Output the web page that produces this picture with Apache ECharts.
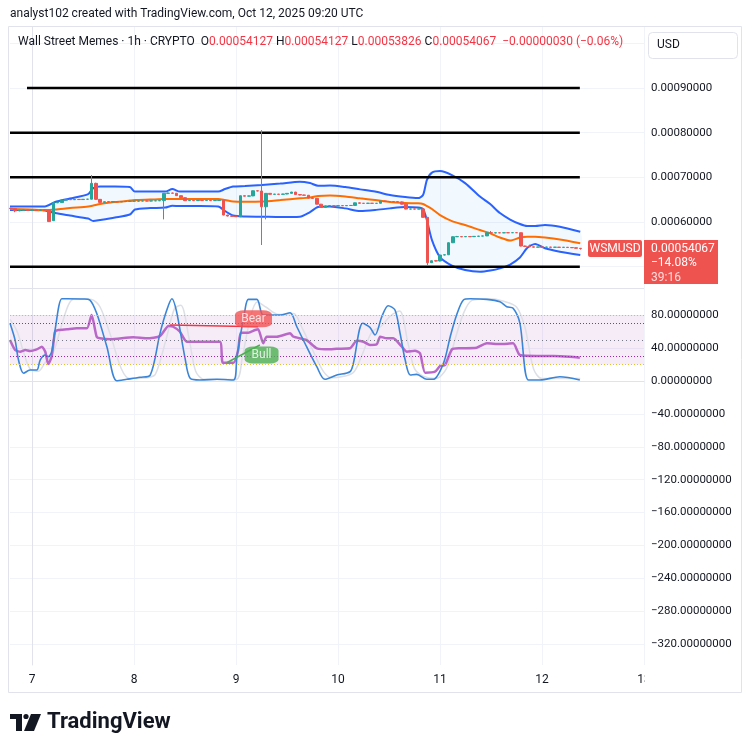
<!DOCTYPE html>
<html><head><meta charset="utf-8">
<script src="https://cdn.jsdelivr.net/npm/echarts@6/dist/echarts.min.js"></script>
<style>html,body{margin:0;padding:0;background:#fff}#c{width:750px;height:753px}</style>
</head><body><div id="c"></div><script>
// ---------- DATA ----------
const dayHours = [0, 24, 48, 72, 96, 120, 144];
const dayLabels = ['7', '8', '9', '10', '11', '12', '13'];
const priceTicks = [0.0005, 0.0006, 0.0007, 0.0008, 0.0009, 0.001];
const oscTicks = [80, 40, 0, -40, -80, -120, -160, -200, -240, -280, -320];

const candleStartHour = -5; // hourly candles, [open, close, low, high]
const candles = [
[0.0006310,0.0006300,0.0006290,0.0006320],[0.0006300,0.0006250,0.0006220,0.0006305],[0.0006250,0.0006262,0.0006245,0.0006270],
[0.0006262,0.0006270,0.0006255,0.0006275],[0.0006270,0.0006262,0.0006255,0.0006275],[0.0006262,0.0006270,0.0006258,0.0006278],
[0.0006270,0.0006265,0.0006258,0.0006276],[0.0006265,0.0006270,0.0006260,0.0006278],[0.0006270,0.0006268,0.0006260,0.0006275],
[0.0006268,0.0006010,0.0006000,0.0006272],[0.0006030,0.0006430,0.0006025,0.0006440],[0.0006430,0.0006440,0.0006425,0.0006450],
[0.0006435,0.0006490,0.0006430,0.0006495],[0.0006490,0.0006505,0.0006485,0.0006510],[0.0006505,0.0006500,0.0006495,0.0006512],
[0.0006500,0.0006508,0.0006495,0.0006512],[0.0006508,0.0006503,0.0006498,0.0006512],[0.0006503,0.0006510,0.0006498,0.0006515],
[0.0006510,0.0006512,0.0006500,0.0006518],[0.0006512,0.0006866,0.0006505,0.0007051],[0.0006866,0.0006508,0.0006500,0.0006880],
[0.0006508,0.0006440,0.0006432,0.0006512],[0.0006440,0.0006455,0.0006435,0.0006460],[0.0006455,0.0006450,0.0006445,0.0006462],
[0.0006450,0.0006458,0.0006445,0.0006462],[0.0006458,0.0006452,0.0006447,0.0006462],[0.0006452,0.0006458,0.0006448,0.0006463],
[0.0006458,0.0006462,0.0006452,0.0006466],[0.0006462,0.0006465,0.0006457,0.0006470],[0.0006465,0.0006468,0.0006460,0.0006472],
[0.0006468,0.0006470,0.0006462,0.0006475],[0.0006470,0.0006472,0.0006465,0.0006478],[0.0006472,0.0006470,0.0006465,0.0006478],
[0.0006470,0.0006475,0.0006465,0.0006480],[0.0006475,0.0006476,0.0006468,0.0006482],[0.0006476,0.0006480,0.0006470,0.0006485],
[0.0006480,0.0006642,0.0006060,0.0006650],[0.0006642,0.0006650,0.0006638,0.0006660],[0.0006650,0.0006645,0.0006638,0.0006655],
[0.0006645,0.0006590,0.0006585,0.0006650],[0.0006590,0.0006545,0.0006540,0.0006595],[0.0006545,0.0006478,0.0006470,0.0006550],
[0.0006478,0.0006482,0.0006472,0.0006488],[0.0006482,0.0006478,0.0006472,0.0006488],[0.0006478,0.0006485,0.0006472,0.0006490],
[0.0006485,0.0006480,0.0006475,0.0006490],[0.0006480,0.0006484,0.0006474,0.0006490],[0.0006484,0.0006478,0.0006472,0.0006488],
[0.0006478,0.0006482,0.0006473,0.0006488],[0.0006482,0.0006488,0.0006476,0.0006492],[0.0006488,0.0006157,0.0006150,0.0006492],
[0.0006157,0.0006134,0.0006125,0.0006160],[0.0006134,0.0006130,0.0006122,0.0006140],[0.0006130,0.0006119,0.0006112,0.0006135],
[0.0006119,0.0006588,0.0006110,0.0006595],[0.0006588,0.0006580,0.0006575,0.0006595],[0.0006580,0.0006585,0.0006575,0.0006592],
[0.0006585,0.0006700,0.0006580,0.0006705],[0.0006700,0.0006695,0.0006688,0.0006710],[0.0006695,0.0006342,0.0005486,0.0008058],
[0.0006342,0.0006642,0.0006060,0.0006650],[0.0006642,0.0006620,0.0006615,0.0006648],[0.0006620,0.0006625,0.0006615,0.0006630],
[0.0006625,0.0006620,0.0006614,0.0006630],[0.0006620,0.0006628,0.0006615,0.0006632],[0.0006628,0.0006642,0.0006622,0.0006650],
[0.0006642,0.0006671,0.0006638,0.0006675],[0.0006671,0.0006615,0.0006610,0.0006675],[0.0006615,0.0006605,0.0006598,0.0006620],
[0.0006605,0.0006600,0.0006595,0.0006610],[0.0006600,0.0006537,0.0006530,0.0006605],[0.0006537,0.0006530,0.0006525,0.0006542],
[0.0006530,0.0006400,0.0006395,0.0006535],[0.0006400,0.0006329,0.0006320,0.0006405],[0.0006329,0.0006360,0.0006325,0.0006365],
[0.0006360,0.0006365,0.0006355,0.0006372],[0.0006365,0.0006362,0.0006356,0.0006370],[0.0006362,0.0006368,0.0006357,0.0006372],
[0.0006368,0.0006365,0.0006360,0.0006373],[0.0006365,0.0006370,0.0006360,0.0006375],[0.0006370,0.0006372,0.0006362,0.0006378],
[0.0006372,0.0006430,0.0006368,0.0006435],[0.0006430,0.0006420,0.0006415,0.0006435],[0.0006420,0.0006418,0.0006412,0.0006425],
[0.0006418,0.0006422,0.0006413,0.0006428],[0.0006422,0.0006418,0.0006412,0.0006426],[0.0006418,0.0006420,0.0006413,0.0006426],
[0.0006420,0.0006470,0.0006415,0.0006475],[0.0006470,0.0006460,0.0006455,0.0006475],[0.0006460,0.0006458,0.0006452,0.0006465],
[0.0006458,0.0006455,0.0006450,0.0006465],[0.0006455,0.0006450,0.0006445,0.0006462],[0.0006450,0.0006400,0.0006395,0.0006458],
[0.0006400,0.0006290,0.0006284,0.0006405],[0.0006290,0.0006292,0.0006285,0.0006298],[0.0006292,0.0006290,0.0006284,0.0006297],
[0.0006290,0.0006294,0.0006285,0.0006300],[0.0006294,0.0006105,0.0006100,0.0006298],[0.0006105,0.0005090,0.0005038,0.0006108],
[0.0005090,0.0005134,0.0005085,0.0005140],[0.0005134,0.0005128,0.0005120,0.0005140],[0.0005128,0.0005262,0.0005122,0.0005265],
[0.0005262,0.0005268,0.0005255,0.0005275],[0.0005268,0.0005537,0.0005262,0.0005545],[0.0005537,0.0005671,0.0005530,0.0005680],
[0.0005671,0.0005675,0.0005665,0.0005690],[0.0005675,0.0005670,0.0005662,0.0005685],[0.0005670,0.0005676,0.0005665,0.0005682],
[0.0005676,0.0005672,0.0005666,0.0005685],[0.0005672,0.0005680,0.0005668,0.0005686],[0.0005680,0.0005685,0.0005674,0.0005690],
[0.0005685,0.0005690,0.0005680,0.0005695],[0.0005690,0.0005761,0.0005686,0.0005768],[0.0005761,0.0005755,0.0005750,0.0005800],
[0.0005755,0.0005761,0.0005750,0.0005766],[0.0005761,0.0005758,0.0005752,0.0005766],[0.0005758,0.0005762,0.0005753,0.0005767],
[0.0005762,0.0005760,0.0005754,0.0005766],[0.0005760,0.0005763,0.0005755,0.0005768],[0.0005763,0.0005761,0.0005755,0.0005768],
[0.0005761,0.0005463,0.0005455,0.0005766],[0.0005463,0.0005455,0.0005448,0.0005470],[0.0005455,0.0005446,0.0005440,0.0005495],
[0.0005446,0.0005438,0.0005432,0.0005450],[0.0005438,0.0005442,0.0005433,0.0005447],[0.0005442,0.0005436,0.0005430,0.0005446],
[0.0005436,0.0005440,0.0005431,0.0005445],[0.0005440,0.0005435,0.0005429,0.0005444],[0.0005435,0.0005438,0.0005430,0.0005443],
[0.0005438,0.0005433,0.0005428,0.0005442],[0.0005433,0.0005436,0.0005428,0.0005441],[0.0005436,0.0005430,0.0005425,0.0005440],
[0.0005430,0.0005425,0.0005420,0.0005434],[0.0005425,0.0005413,0.0005408,0.0005428],[0.00054127,0.00054067,0.00053826,0.00054127]
];

const bandHours = [-5.2,-0.5,3,5.4,8.9,13.2,14.4,16,19.5,23,24.2,27.8,31.3,33,34.8,39.5,43.8,45.4,47.3,50.1,54.1,58.4,63,65.4,67.3,70.1,73.7,77.2,80.7,84.2,87.8,90.8,92,92.9,94.1,96,98.8,101.9,105.4,107.8,110.1,112.5,114.8,116.5,118.4,120.7,124.2,129];
const bandUpper = [0.0006347,0.0006347,0.0006347,0.0006447,0.0006526,0.0006626,0.0006761,0.0006794,0.0006794,0.0006783,0.0006682,0.0006682,0.0006682,0.0006738,0.0006682,0.0006682,0.0006682,0.0006738,0.0006794,0.0006805,0.0006828,0.0006861,0.0006902,0.0006872,0.0006812,0.0006817,0.0006783,0.0006731,0.0006682,0.0006604,0.0006559,0.0006537,0.0006604,0.0006940,0.0007107,0.0007141,0.0007051,0.0006872,0.0006570,0.0006403,0.0006201,0.0006056,0.0005955,0.0005911,0.0005911,0.0005933,0.0005895,0.0005783];
const bandMid = [0.0006291,0.0006280,0.0006268,0.0006280,0.0006313,0.0006347,0.0006369,0.0006403,0.0006447,0.0006481,0.0006492,0.0006503,0.0006515,0.0006515,0.0006515,0.0006515,0.0006515,0.0006492,0.0006459,0.0006454,0.0006459,0.0006492,0.0006530,0.0006548,0.0006582,0.0006593,0.0006570,0.0006530,0.0006492,0.0006447,0.0006425,0.0006418,0.0006403,0.0006358,0.0006291,0.0006157,0.0006022,0.0005933,0.0005821,0.0005747,0.0005653,0.0005586,0.0005653,0.0005671,0.0005671,0.0005653,0.0005609,0.0005524];
const bandLower = [0.0006268,0.0006268,0.0006257,0.0006201,0.0006145,0.0006078,0.0006022,0.0006045,0.0006101,0.0006168,0.0006280,0.0006313,0.0006324,0.0006365,0.0006358,0.0006358,0.0006347,0.0006246,0.0006145,0.0006123,0.0006119,0.0006112,0.0006119,0.0006224,0.0006336,0.0006347,0.0006306,0.0006246,0.0006268,0.0006306,0.0006336,0.0006324,0.0006291,0.0006045,0.0005597,0.0005217,0.0005027,0.0004926,0.0004888,0.0004915,0.0004964,0.0005049,0.0005206,0.0005418,0.0005508,0.0005412,0.0005336,0.0005262];

const levelPrices = [0.0009, 0.0008, 0.0007, 0.0005];
const levelStartHours = [-1.2, -5.2, -5.2, -5.2];
const levelEndHour = 128.9;

const stochKHours = [-5.2,-4,-3.2,-2,-0.5,1.1,1.9,3.1,3.8,4.6,5.4,7,8.2,12.1,13.6,15.2,17.6,19.9,22.3,25.4,27.8,30.1,31.7,32.9,34,36,37.2,39.5,43.5,47.4,48.2,50.1,50.9,52.9,54.4,58.4,60.7,62.3,64.6,67,68.9,71.7,74.8,75.6,77.8,79.5,80.7,82.3,83.8,85.4,86.6,87.8,89,90.5,92.9,94.4,96.8,98.4,99.9,101.5,103.1,107,110.1,111.7,113.2,114.8,116.8,119.5,124.2,128.9];
const stochK = [70.2,49.8,25.5,9.4,13.4,13.4,25.5,31.6,29.5,35.6,62,100,100,99.7,98.5,82.3,41.7,0.4,2.1,4.5,7.3,58,86.3,100,84.3,27.6,3.3,1.2,2.1,1.2,29.5,86.3,99.3,99.3,80.2,80.2,83,66,41.7,17.4,2.1,7.3,11.3,21.5,70.2,65.3,55.9,78.2,91.6,86.3,58,25.5,7.3,8.1,2.1,2.1,21.5,53.9,80.2,98.5,100,99.3,96.4,90.3,88.4,70.2,1.2,1.2,5.2,1.2];
const stochDHours = [-5.2,-3.5,-2,-0.5,1.5,3,5,6.5,8.5,10,14,16,18.5,21,23,27,29,31.5,33.5,35,37,38.5,40.5,48,49.5,51.5,53,55,58,61.5,63.5,66,68.5,70.5,75.5,77.5,80,82,84.5,86.5,88.5,90,92,95,97.5,99.5,101.5,103.5,107.5,111,114,116,118,120,129];
const stochD = [75,60,35,15,12,22,35,60,92,100,99,90,55,15,3,4,8,50,88,92,50,12,2,2,30,80,96,90,81,82,65,38,12,4,10,30,60,66,80,85,45,15,6,3,15,50,82,98,100,97,90,65,15,3,3];
const rsiHours = [-5.2,-4,-2.8,-1.6,-0.5,1.1,2.3,3.1,3.8,4.6,5.4,6.2,8.2,10.5,12.9,14,15.2,16,18.4,23.8,27,30.1,32.1,33.2,34.8,36.4,39.5,44.2,44.9,47.4,48.5,49.1,50.9,52.5,53.2,54.4,55.2,57.6,60.7,61.5,64.6,67,70.1,71.7,74.8,76.4,78,79.5,81.1,81.9,83.5,85,87,88.2,90.1,91.3,92.5,94.8,96,97.2,98.8,100.7,104.6,107,110.1,113.2,114.8,118.8,122.7,126.6,128.9];
const rsi = [49.8,37.7,35.6,37.7,36.5,38.5,41.7,35.6,20.7,29.5,59.9,62,62.9,64.1,64.1,80.2,53.9,51.9,50.7,53.1,51.9,54.7,66.9,66,59.9,47.8,47.8,47.8,22.2,22.2,37.7,58.7,58.7,62,62.9,45.8,53.9,53.9,58,53.9,49.8,39.8,38.5,39.3,39.8,49,47.8,43.8,44.6,53.9,51.9,51.9,41.7,35.6,36.8,33.7,10.1,11.3,18.2,19.5,38.5,39.8,40.5,45.8,45,45.8,31.6,30.4,30.4,29.5,28.3];
const bearLine = [[32.5, 68.1], [53.2, 66]];
const bullLine = [[45.8, 22.2], [53.6, 43.8]];
const bearLabelAt = [52.1, 75.7];
const bullLabelAt = [54, 31.6];

const headerInfo = { name: 'Wall Street Memes · 1h · CRYPTO', o: '0.00054127', h: '0.00054127', l: '0.00053826', c: '0.00054067', chg: '−0.00000030 (−0.06%)' };
const lastPriceText = ['0.00054067', '−14.08%', '39:16'];

// ---------- CHART ----------
const FONT = 'Roboto, "Liberation Sans", sans-serif';
const chart = echarts.init(document.getElementById('c'), null, { renderer: 'canvas' });
const xMin = -5.2, xMax = 144;
const lastClose = candles[candles.length - 1][1];
const GRID_C = '#f0f3fa';

function xAxisCfg(gi, showLabels) {
  return {
    type: 'value', gridIndex: gi, min: xMin, max: xMax,
    axisLine: { show: true, lineStyle: { color: '#e0e3eb' } },
    axisTick: { show: false, customValues: dayHours },
    splitLine: { show: true, lineStyle: { color: GRID_C, width: 1 } },
    axisLabel: {
      show: showLabels, customValues: dayHours, color: '#131722', fontSize: 12, fontFamily: FONT, margin: 9,
      formatter: v => dayLabels[dayHours.indexOf(v)]
    }
  };
}

const series = [];
// Bollinger fill
series.push({
  type: 'custom', xAxisIndex: 0, yAxisIndex: 0, data: [[0, 0]], silent: true, z: 1, clip: true,
  renderItem: (params, api) => {
    const pts = bandHours.map((h, i) => api.coord([h, bandUpper[i]]));
    for (let i = bandHours.length - 1; i >= 0; i--) pts.push(api.coord([bandHours[i], bandLower[i]]));
    return { type: 'polygon', shape: { points: pts, smooth: 0.25 }, style: { fill: 'rgba(33,150,243,0.06)' } };
  }
});
[[bandUpper, '#2962ff'], [bandLower, '#2962ff'], [bandMid, '#ff6d00']].forEach(([arr, col]) => {
  series.push({
    type: 'line', xAxisIndex: 0, yAxisIndex: 0, data: bandHours.map((h, i) => [h, arr[i]]),
    showSymbol: false, smooth: 0.25, silent: true, z: 2, lineStyle: { color: col, width: 2 }
  });
});
// horizontal levels
levelPrices.forEach((p, i) => {
  series.push({
    type: 'line', xAxisIndex: 0, yAxisIndex: 0, data: [[levelStartHours[i], p], [levelEndHour, p]],
    showSymbol: false, silent: true, z: 3, lineStyle: { color: '#000000', width: 2.5 }
  });
});
// candles
series.push({
  type: 'candlestick', xAxisIndex: 0, yAxisIndex: 0, z: 4, barWidth: 3,
  encode: { x: 0, y: [1, 2, 3, 4] },
  data: candles.map((c, i) => [candleStartHour + i, c[0], c[1], c[2], c[3]]),
  itemStyle: { color: '#26a69a', color0: '#ef5350', borderColor: '#26a69a', borderColor0: '#ef5350', borderWidth: 1 },
  markLine: {
    silent: true, symbol: ['none', 'none'], label: { show: false },
    lineStyle: { color: '#ef5350', type: [1, 3], width: 1 },
    data: [{ yAxis: lastClose }]
  }
});
// oscillator pane
series.push({
  type: 'line', xAxisIndex: 1, yAxisIndex: 1, data: stochDHours.map((h, i) => [h, stochD[i]]),
  showSymbol: false, smooth: 0.3, silent: true, z: 2, lineStyle: { color: '#dcdfe6', width: 1.5 },
  markArea: { silent: true, itemStyle: { color: 'rgba(156,39,176,0.09)' }, data: [[{ yAxis: 20 }, { yAxis: 80 }]] },
  markLine: {
    silent: true, symbol: ['none', 'none'], label: { show: false },
    data: [
      { yAxis: 80, lineStyle: { color: '#e2c031', type: [1, 2], width: 1 } },
      { yAxis: 20, lineStyle: { color: '#e2c031', type: [1, 2], width: 1 } },
      { yAxis: 70, lineStyle: { color: '#9c27b0', type: [1, 2], width: 1 } },
      { yAxis: 30, lineStyle: { color: '#9c27b0', type: [1, 2], width: 1 } },
      { yAxis: 50, lineStyle: { color: '#787b86', type: [1, 3], width: 1 } }
    ]
  }
});
series.push({
  type: 'line', xAxisIndex: 1, yAxisIndex: 1, data: rsiHours.map((h, i) => [h, rsi[i]]),
  showSymbol: false, smooth: 0.2, silent: true, z: 3, lineStyle: { color: '#ba68c8', width: 2.5 }
});
series.push({
  type: 'line', xAxisIndex: 1, yAxisIndex: 1, data: stochKHours.map((h, i) => [h, stochK[i]]),
  showSymbol: false, smooth: 0.3, silent: true, z: 4, lineStyle: { color: '#3a85d8', width: 1.6 }
});
series.push({
  type: 'line', xAxisIndex: 1, yAxisIndex: 1, data: bearLine, showSymbol: false, silent: true, z: 5,
  lineStyle: { color: '#f23645', width: 1.5 }
});
series.push({
  type: 'line', xAxisIndex: 1, yAxisIndex: 1, data: bullLine, showSymbol: false, silent: true, z: 5,
  lineStyle: { color: '#4caf50', width: 1.5 }
});
series.push({
  type: 'scatter', xAxisIndex: 1, yAxisIndex: 1, z: 6, silent: true,
  data: [
    { value: bearLabelAt, symbol: 'roundRect', symbolSize: [37, 17], itemStyle: { color: '#f25252' }, label: { formatter: 'Bear' } },
    { value: bullLabelAt, symbol: 'roundRect', symbolSize: [34, 17], itemStyle: { color: '#4caf50' }, label: { formatter: 'Bull' } }
  ],
  label: { show: true, position: 'inside', color: '#ffffff', fontSize: 12, fontFamily: FONT }
});

chart.setOption({
  animation: false,
  backgroundColor: '#ffffff',
  grid: [
    { left: 10, top: 27, width: 634, height: 261 },
    { left: 10, top: 289, width: 634, height: 376 }
  ],
  xAxis: [xAxisCfg(0, false), xAxisCfg(1, true)],
  yAxis: [
    {
      type: 'value', gridIndex: 0, position: 'right', min: 0.0004524, max: 0.0010365,
      axisLine: { show: true, lineStyle: { color: '#e0e3eb' } },
      axisTick: { show: false, customValues: priceTicks },
      splitLine: { show: true, lineStyle: { color: GRID_C } },
      axisLabel: { customValues: priceTicks, color: '#131722', fontSize: 11.5, fontFamily: FONT, margin: 7, padding: [3, 0, 0, 0], formatter: v => v.toFixed(8) }
    },
    {
      type: 'value', gridIndex: 1, position: 'right', min: -345.3, max: 111.9,
      axisLine: { show: true, lineStyle: { color: '#e0e3eb' } },
      axisTick: { show: false, customValues: oscTicks },
      splitLine: { show: true, lineStyle: { color: GRID_C } },
      axisLabel: { customValues: oscTicks, color: '#131722', fontSize: 11.5, fontFamily: FONT, margin: 7, padding: [3, 0, 0, 0],
        formatter: v => (v < 0 ? '−' : '') + Math.abs(v).toFixed(8) }
    }
  ],
  series: series
});

// annotations positioned through the library's scales
const py = chart.convertToPixel({ yAxisIndex: 0 }, lastClose);
chart.setOption({
  graphic: [
    { type: 'text', left: 10, top: 8, style: { text: 'analyst102 created with TradingView.com, Oct 12, 2025 09:20 UTC', fill: '#131722', font: '12px ' + FONT } },
    { type: 'rect', z: 50, shape: { x: 8.5, y: 26.5, width: 733, height: 666 }, style: { fill: 'none', stroke: '#e0e3eb', lineWidth: 1 } },
    { type: 'rect', z: 40, shape: { x: 645, y: 666, width: 96, height: 26 }, style: { fill: '#ffffff' } },
    {
      type: 'text', z: 60, x: 18, y: 36,
      style: {
        text: '{n|' + headerInfo.name + '  O}{r|' + headerInfo.o + '}{n| H}{r|' + headerInfo.h + '}{n| L}{r|' + headerInfo.l + '}{n| C}{r|' + headerInfo.c + '}{r|  ' + headerInfo.chg + '}',
        rich: { n: { fill: '#131722', font: '12px ' + FONT }, r: { fill: '#f23645', font: '12px ' + FONT } }
      }
    },
    { type: 'rect', z: 60, shape: { x: 648.5, y: 32.5, width: 89, height: 26, r: 4 }, style: { fill: '#ffffff', stroke: '#e0e3eb', lineWidth: 1 } },
    { type: 'text', z: 61, x: 657, y: 39, style: { text: 'USD', fill: '#131722', font: '12px ' + FONT } },
    { type: 'rect', z: 60, shape: { x: 588, y: py - 8.5, width: 54, height: 17, r: 2 }, style: { fill: '#ef5350' } },
    { type: 'text', z: 61, x: 615, y: py, style: { text: 'WSMUSD', fill: '#ffffff', font: '12px ' + FONT, align: 'center', verticalAlign: 'middle' } },
    { type: 'rect', z: 60, shape: { x: 644, y: py - 8.5, width: 74, height: 44 }, style: { fill: '#ef5350' } },
    { type: 'text', z: 61, x: 651, y: py, style: { text: lastPriceText[0], fill: '#ffffff', font: '12px ' + FONT, verticalAlign: 'middle' } },
    { type: 'text', z: 61, x: 651, y: py + 14.5, style: { text: lastPriceText[1], fill: '#ffffff', font: '12px ' + FONT, verticalAlign: 'middle' } },
    { type: 'text', z: 61, x: 651, y: py + 29, style: { text: lastPriceText[2], fill: 'rgba(255,255,255,0.8)', font: '12px ' + FONT, verticalAlign: 'middle' } },
    // TradingView logo
    { type: 'rect', shape: { x: 10, y: 714, width: 12, height: 5 }, style: { fill: '#131722' } },
    { type: 'rect', shape: { x: 16, y: 714, width: 6, height: 17 }, style: { fill: '#131722' } },
    { type: 'circle', shape: { cx: 26, cy: 716.5, r: 2.6 }, style: { fill: '#131722' } },
    { type: 'polygon', shape: { points: [[31, 714], [41, 714], [34, 731], [24, 731]] }, style: { fill: '#131722' } },
    { type: 'text', x: 47, y: 722, style: { text: 'TradingView', fill: '#131722', font: 'bold 22px ' + FONT, verticalAlign: 'middle' } }
  ]
});
</script></body></html>
